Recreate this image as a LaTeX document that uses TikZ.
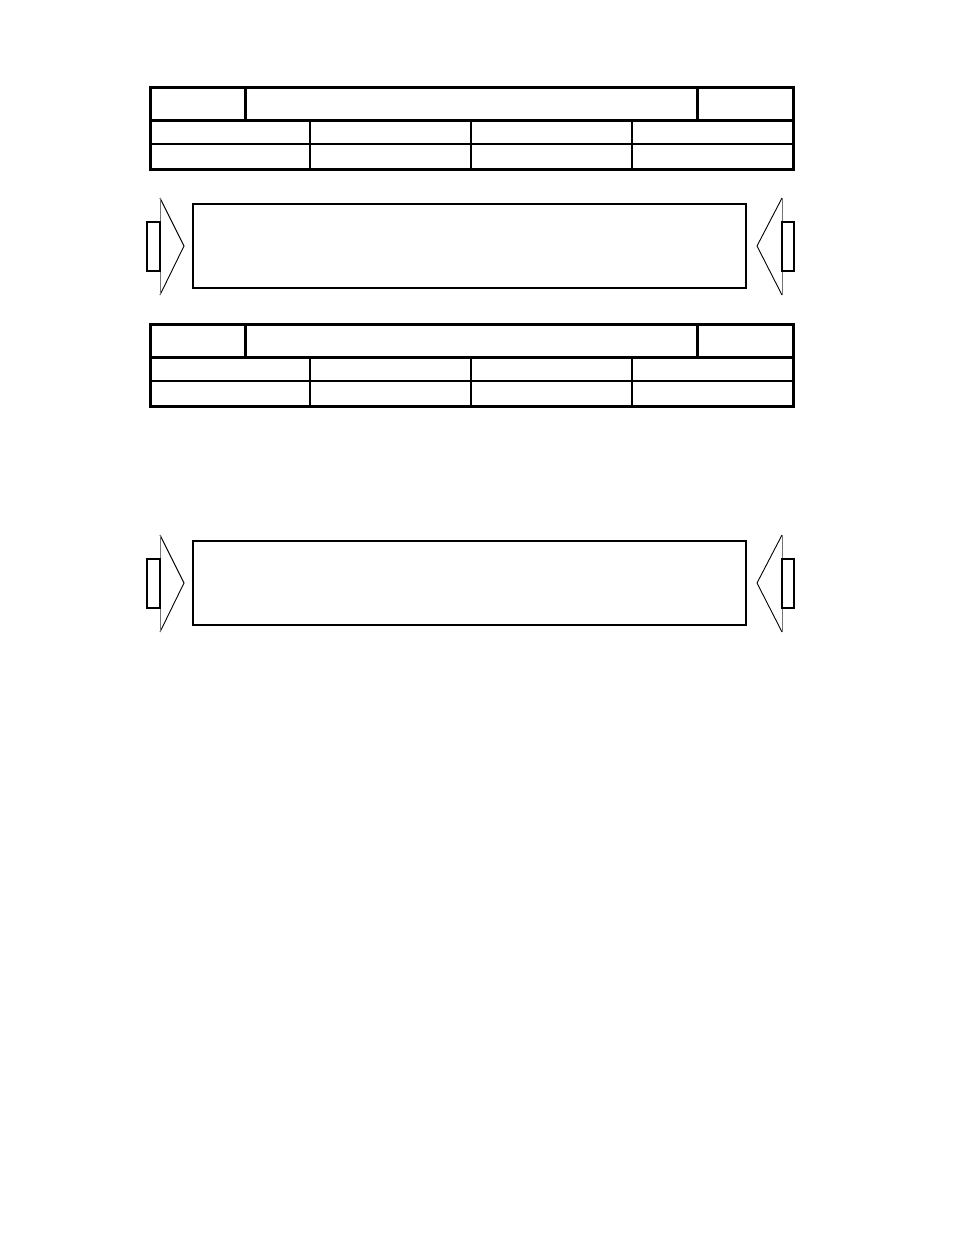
\documentclass[tikz,border=0pt]{standalone}
\usepackage{tikz}

\begin{document}
\begin{tikzpicture}
  [x=1pt,y=-1pt,
   frame/.style={line width=3pt},
   rule/.style={line width=1.3pt},
   panel/.style={line width=2.2pt},
   plug/.style={line width=1.6pt,fill=white},
   cone/.style={line width=0.9pt,line join=miter}]
  \useasboundingbox (0,0) rectangle (954,1235);

  % the two header tables
  \foreach \dy in {0,237} {
    \begin{scope}[shift={(0,\dy)}]
      \draw[frame] (150,87) rectangle (793,169);
      \draw[frame] (150,120) -- (793,120);
      \foreach \x in {245,697}
        \draw[frame] (\x,87) -- (\x,120);
      \draw[rule] (150,144) -- (793,144);
      \foreach \x in {310,471,632}
        \draw[rule] (\x,120) -- (\x,169);
    \end{scope}
  }

  % the two panels with their side arrows
  \foreach \dy in {0,337} {
    \begin{scope}[shift={(0,\dy)}]
      \coordinate (lt) at (160,198);
      \coordinate (lb) at (160,295);
      \coordinate (ltip) at (184,246);
      \coordinate (rt) at (782,198);
      \coordinate (rb) at (782,295);
      \coordinate (rtip) at (757,246);

      \draw[panel] (193,204) rectangle (746,288);

      \draw[cone] (lt) -- (ltip) -- (lb);
      \draw[cone,black!55] (lt) -- (lb);
      \draw[plug] (147,222) rectangle (160,271);

      \draw[cone] (rt) -- (rtip) -- (rb);
      \draw[cone,black!55] (rt) -- (rb);
      \draw[plug] (782,222) rectangle (794,271);
    \end{scope}
  }

\end{tikzpicture}
\end{document}
